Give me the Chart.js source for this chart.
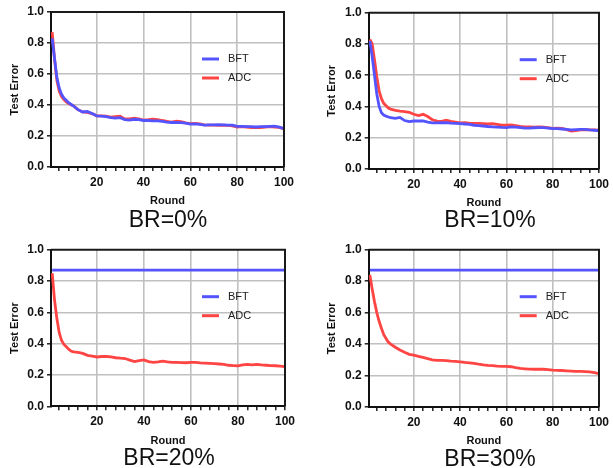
<!DOCTYPE html>
<html>
<head>
<meta charset="utf-8">
<script src="https://cdn.jsdelivr.net/npm/chart.js@4.4.1/dist/chart.umd.min.js"></script>
<style>
  body { margin: 0; background: #fff; }
  #wrap { position: relative; width: 613px; height: 468px; overflow: hidden; }
  .panel { position: absolute; }
  .br { position: absolute; font: 23px "Liberation Sans", Arial, sans-serif; color: #111;
        transform: translate(-50%, -50%); white-space: nowrap; }
</style>
</head>
<body>
<div id="wrap"></div>
<script>
// rounds
const rounds = [1,2,3,4,5,6,7,8,9,10,12,14,16,18,20,22,24,26,28,30,32,34,36,38,40,42,44,46,48,50,
  52,54,56,58,60,62,64,66,68,70,72,74,76,78,80,82,84,86,88,90,92,94,96,98,100];
const flatRounds = [1, 100];

const bft0 = [0.83,0.70,0.58,0.51,0.47,0.445,0.43,0.415,0.405,0.395,0.37,0.355,0.358,0.345,0.33,0.328,0.325,0.318,0.315,0.318,
  0.305,0.303,0.308,0.305,0.30,0.30,0.298,0.298,0.295,0.29,0.287,0.288,0.286,0.283,0.277,0.278,0.275,0.27,0.272,0.272,
  0.273,0.272,0.27,0.27,0.262,0.262,0.26,0.26,0.258,0.26,0.26,0.262,0.263,0.257,0.248];
const adc0 = [0.87,0.70,0.56,0.49,0.455,0.435,0.42,0.41,0.402,0.395,0.37,0.355,0.352,0.345,0.33,0.33,0.328,0.322,0.325,0.328,
  0.31,0.31,0.315,0.31,0.303,0.305,0.308,0.306,0.30,0.295,0.29,0.295,0.292,0.285,0.28,0.282,0.278,0.272,0.27,0.27,
  0.268,0.27,0.268,0.265,0.258,0.26,0.258,0.255,0.256,0.255,0.258,0.26,0.258,0.255,0.245];

const bft10 = [0.82,0.72,0.60,0.48,0.40,0.36,0.345,0.338,0.333,0.328,0.324,0.33,0.31,0.303,0.307,0.307,0.308,0.30,0.295,0.295,
  0.296,0.297,0.293,0.292,0.29,0.288,0.286,0.28,0.278,0.275,0.272,0.27,0.268,0.266,0.265,0.27,0.268,0.265,0.262,0.262,
  0.264,0.265,0.265,0.262,0.258,0.258,0.256,0.254,0.25,0.252,0.253,0.253,0.25,0.248,0.245];
const adc10 = [0.83,0.80,0.70,0.59,0.50,0.45,0.42,0.405,0.39,0.383,0.375,0.37,0.367,0.363,0.35,0.342,0.35,0.336,0.315,0.306,
  0.305,0.313,0.305,0.30,0.295,0.297,0.294,0.292,0.292,0.29,0.288,0.29,0.285,0.28,0.28,0.282,0.277,0.272,0.27,0.27,
  0.268,0.27,0.268,0.265,0.26,0.262,0.26,0.252,0.242,0.245,0.25,0.252,0.25,0.25,0.248];

const bft20 = [0.87, 0.87];
const adc20 = [0.85,0.68,0.56,0.47,0.42,0.395,0.38,0.365,0.353,0.348,0.345,0.338,0.325,0.32,0.315,0.318,0.318,0.315,0.31,0.307,
  0.305,0.295,0.285,0.292,0.296,0.285,0.281,0.283,0.288,0.283,0.28,0.28,0.279,0.278,0.28,0.28,0.277,0.276,0.274,0.272,
  0.27,0.268,0.262,0.26,0.258,0.265,0.268,0.265,0.268,0.264,0.262,0.26,0.259,0.257,0.253];

const bft30 = [0.87, 0.87];
const adc30 = [0.84,0.75,0.67,0.60,0.545,0.50,0.46,0.435,0.412,0.40,0.38,0.362,0.348,0.335,0.33,0.322,0.315,0.307,0.30,0.297,
  0.296,0.295,0.292,0.29,0.287,0.283,0.28,0.277,0.272,0.268,0.265,0.263,0.26,0.258,0.258,0.256,0.25,0.245,0.243,0.241,
  0.24,0.241,0.24,0.238,0.235,0.233,0.232,0.23,0.228,0.226,0.226,0.225,0.223,0.218,0.212];

const seriesNames = ["BFT", "ADC"];
const panelTitles = ["BR=0%", "BR=10%", "BR=20%", "BR=30%"];
const xTickLabels = [20, 40, 60, 80, 100];
const yTicks = [0, 0.2, 0.4, 0.6, 0.8, 1.0];

const BLUE = "#5454ff", RED = "#ff4444";
const FONT = "'Liberation Sans', Arial, sans-serif";

// placement of each panel (canvas box + plot area inside it)
const panels = [
  { left: 0,   top: 0,   w: 306, area: { l: 51,   t: 12,   r: 284,   b: 167 }, title: [168, 219],
    bft: [rounds, bft0], adc: [rounds, adc0] },
  { left: 306, top: 0,   w: 307, area: { l: 62.7, t: 12.7, r: 296.7, b: 169 }, title: [490, 219],
    bft: [rounds, bft10], adc: [rounds, adc10] },
  { left: 0,   top: 234, w: 306, area: { l: 51,   t: 15.7, r: 285,   b: 172.3 }, title: [169, 457],
    bft: [flatRounds, bft20], adc: [rounds, adc20] },
  { left: 306, top: 234, w: 307, area: { l: 62.7, t: 15.7, r: 296.7, b: 173 }, title: [490, 458],
    bft: [flatRounds, bft30], adc: [rounds, adc30] }
];

const pts = (xs, ys) => xs.map((x, i) => ({ x: x, y: ys[i] }));

// box round the plot + legend inside it
const boxLegend = {
  id: "boxLegend",
  afterDatasetsDraw(chart) {
    const { ctx, chartArea: a } = chart;
    ctx.save();
    ctx.strokeStyle = "#1a1a1a";
    ctx.lineWidth = 2;
    ctx.beginPath();
    ctx.moveTo(a.left, a.top);
    ctx.lineTo(a.right, a.top);
    ctx.lineTo(a.right, a.bottom);
    ctx.stroke();
    const cols = [BLUE, RED];
    ctx.font = "11px " + FONT;
    ctx.textBaseline = "middle";
    seriesNames.forEach((name, i) => {
      const y = a.top + 47 + i * 19;
      ctx.strokeStyle = cols[i];
      ctx.lineWidth = 3;
      ctx.beginPath();
      ctx.moveTo(a.left + 151, y);
      ctx.lineTo(a.left + 168, y);
      ctx.stroke();
      ctx.fillStyle = "#222";
      ctx.fillText(name, a.left + 177, y);
    });
    ctx.restore();
  }
};

const wrap = document.getElementById("wrap");
const H = 234, YW = 43, XH = 41;

panels.forEach((p, k) => {
  const div = document.createElement("div");
  div.className = "panel";
  div.style.left = p.left + "px";
  div.style.top = p.top + "px";
  const cv = document.createElement("canvas");
  cv.width = p.w; cv.height = H;
  div.appendChild(cv);
  wrap.appendChild(div);

  const t = document.createElement("div");
  t.className = "br";
  t.style.left = p.title[0] + "px";
  t.style.top = p.title[1] + "px";
  t.textContent = panelTitles[k];
  wrap.appendChild(t);

  const a = p.area;
  new Chart(cv, {
    type: "line",
    data: {
      datasets: [
        { label: seriesNames[0], data: pts(p.bft[0], p.bft[1]), borderColor: BLUE, borderWidth: 2.8 },
        { label: seriesNames[1], data: pts(p.adc[0], p.adc[1]), borderColor: RED, borderWidth: 2.8 }
      ]
    },
    options: {
      responsive: false,
      animation: false,
      elements: { point: { radius: 0 }, line: { tension: 0 } },
      layout: { padding: { left: a.l - YW, top: a.t, right: p.w - a.r, bottom: H - a.b - XH } },
      plugins: { legend: { display: false }, tooltip: { enabled: false } },
      scales: {
        x: {
          type: "linear", min: 0.5, max: 100,
          afterFit: s => { s.height = XH; },
          afterBuildTicks: s => {
            const tk = [];
            for (let v = 4; v <= 100; v += 4) tk.push({ value: v });
            s.ticks = tk;
          },
          ticks: {
            autoSkip: false, maxRotation: 0, padding: 4, color: "#111",
            font: { family: FONT, size: 12, weight: "bold" },
            callback: v => xTickLabels.includes(v) ? String(v) : ""
          },
          grid: {
            color: c => (c.tick && c.tick.value % 20 === 0 && c.tick.value < 100) ? "#c0c0c0" : "rgba(0,0,0,0)",
            lineWidth: 1.6, tickLength: 4, tickColor: "#111", tickWidth: 1.4
          },
          border: { color: "#111", width: 2 },
          title: { display: true, text: "Round", color: "#111", padding: 0,
                   font: { family: FONT, size: 11, weight: "bold" } }
        },
        y: {
          min: 0, max: 1,
          afterFit: s => { s.width = YW; },
          afterBuildTicks: s => { s.ticks = yTicks.map(v => ({ value: v })); },
          ticks: {
            padding: 3, color: "#111",
            font: { family: FONT, size: 12, weight: "bold" },
            callback: v => v.toFixed(1)
          },
          grid: {
            color: c => (c.tick && c.tick.value > 0.01 && c.tick.value < 0.99) ? "#c0c0c0" : "rgba(0,0,0,0)",
            lineWidth: 1.6, tickLength: 4, tickColor: "#111", tickWidth: 1.4
          },
          border: { color: "#111", width: 2 },
          title: { display: true, text: "Test Error", color: "#111", padding: 0,
                   font: { family: FONT, size: 11, weight: "bold" } }
        }
      }
    },
    plugins: [boxLegend]
  });
});
</script>
</body>
</html>
